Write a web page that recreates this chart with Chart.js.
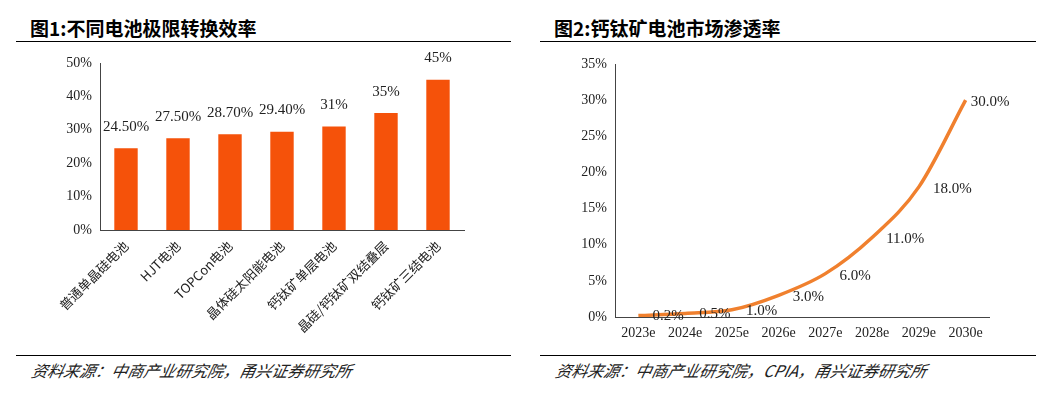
<!DOCTYPE html>
<html>
<head>
<meta charset="utf-8">
<script src="https://cdn.jsdelivr.net/npm/chart.js@4"></script>
<style>
  body { margin: 0; width: 1059px; height: 405px; background: #fff; position: relative; overflow: hidden; }
  .title { position: absolute; top: 14px; font: bold 19px "Noto Sans CJK SC", serif; color: #000; }
  .rule { position: absolute; height: 1px; background: #000; }
  .src { position: absolute; top: 358px; font: italic 16px "Noto Sans CJK SC", serif; color: #222; transform: skewX(-12deg); }
  canvas { position: absolute; }
</style>
</head>
<body>
<div class="title" style="left:30px">图1:不同电池极限转换效率</div>
<div class="rule" style="left:16px;width:495px;top:41px"></div>
<div class="rule" style="left:16px;width:495px;top:355px"></div>
<div class="src" style="left:32px">资料来源：中商产业研究院，甬兴证券研究所</div>

<div class="title" style="left:554px">图2:钙钛矿电池市场渗透率</div>
<div class="rule" style="left:540px;width:496px;top:41px"></div>
<div class="rule" style="left:540px;width:496px;top:355px"></div>
<div class="src" style="left:556px">资料来源：中商产业研究院，CPIA，甬兴证券研究所</div>

<div style="position:absolute;left:40px;top:45px;width:470px;height:305px"><canvas id="c1"></canvas></div>
<div style="position:absolute;left:560px;top:45px;width:470px;height:300px"><canvas id="c2"></canvas></div>

<script>
const cellTypes = ['普通单晶硅电池', 'HJT电池', 'TOPCon电池', '晶体硅太阳能电池', '钙钛矿单层电池', '晶硅/钙钛矿双结叠层', '钙钛矿三结电池'];
const efficiency = [24.5, 27.5, 28.7, 29.4, 31, 35, 45];
const efficiencyLabels = ['24.50%', '27.50%', '28.70%', '29.40%', '31%', '35%', '45%'];

const years = ['2023e', '2024e', '2025e', '2026e', '2027e', '2028e', '2029e', '2030e'];
const penetration = [0.2, 0.5, 1.0, 3.0, 6.0, 11.0, 18.0, 30.0];

const serif = '"Liberation Serif", "Noto Sans CJK SC", serif';

// draws value labels next to each mark
const valueLabels = {
  id: 'valueLabels',
  afterDatasetsDraw(chart, args, opts) {
    const ctx = chart.ctx;
    const meta = chart.getDatasetMeta(0);
    ctx.save();
    ctx.font = '15px ' + serif;
    ctx.fillStyle = '#222';
    meta.data.forEach((el, i) => {
      const txt = opts.text[i];
      if (opts.mode === 'bar') {
        ctx.textAlign = 'center';
        ctx.textBaseline = 'bottom';
        ctx.fillText(txt, el.x, el.y - 14);
      } else {
        ctx.textAlign = 'left';
        ctx.textBaseline = 'middle';
        const dx = i === meta.data.length - 1 ? 5 : 14;
        ctx.fillText(txt, el.x + dx, el.y + (i < 3 ? 1 : 2));
      }
    });
    ctx.restore();
  }
};

const tickFont = { family: serif, size: 14 };

new Chart(document.getElementById('c1'), {
  type: 'bar',
  data: {
    labels: cellTypes,
    datasets: [{ data: efficiency, backgroundColor: '#F5520A', barPercentage: 0.45, categoryPercentage: 1 }]
  },
  options: {
    responsive: true, maintainAspectRatio: false, animation: false,
    layout: { padding: { top: 18, right: 46, left: 0, bottom: 0 } },
    plugins: { legend: { display: false }, tooltip: { enabled: false },
      valueLabels: { mode: 'bar', text: efficiencyLabels } },
    scales: {
      y: {
        min: 0, max: 50,
        ticks: { stepSize: 10, callback: v => v + '%', color: '#222', font: tickFont },
        grid: { display: false, drawTicks: true, tickLength: 5 },
        border: { color: '#444' },
        afterFit: s => { s.width = 60; }
      },
      x: {
        ticks: { maxRotation: 45, minRotation: 45, color: '#222', font: { family: '"Noto Sans CJK SC", serif', size: 13 } },
        grid: { display: false, offset: true, drawOnChartArea: false, drawTicks: true, tickLength: 5 },
        border: { color: '#444' },
        afterFit: s => { s.height = 120; }
      }
    }
  },
  plugins: [valueLabels]
});

new Chart(document.getElementById('c2'), {
  type: 'line',
  data: {
    labels: years,
    datasets: [{ data: penetration, borderColor: '#F0802E', borderWidth: 3.5, pointRadius: 0, tension: 0.4, cubicInterpolationMode: 'monotone' }]
  },
  options: {
    responsive: true, maintainAspectRatio: false, animation: false,
    layout: { padding: { top: 19, right: 41, left: 0, bottom: 0 } },
    plugins: { legend: { display: false }, tooltip: { enabled: false },
      valueLabels: { mode: 'line', text: penetration.map(v => v.toFixed(1) + '%') } },
    scales: {
      y: {
        min: 0, max: 35,
        ticks: { stepSize: 5, callback: v => v + '%', color: '#222', font: tickFont },
        grid: { display: false, drawTicks: true, tickLength: 5 },
        border: { color: '#444' },
        afterFit: s => { s.width = 55; }
      },
      x: {
        offset: true,
        ticks: { maxRotation: 0, color: '#222', font: tickFont },
        grid: { display: false, offset: true, drawOnChartArea: false, drawTicks: true, tickLength: 5 },
        border: { color: '#444' },
        afterFit: s => { s.height = 28; }
      }
    }
  },
  plugins: [valueLabels]
});
</script>
</body>
</html>
